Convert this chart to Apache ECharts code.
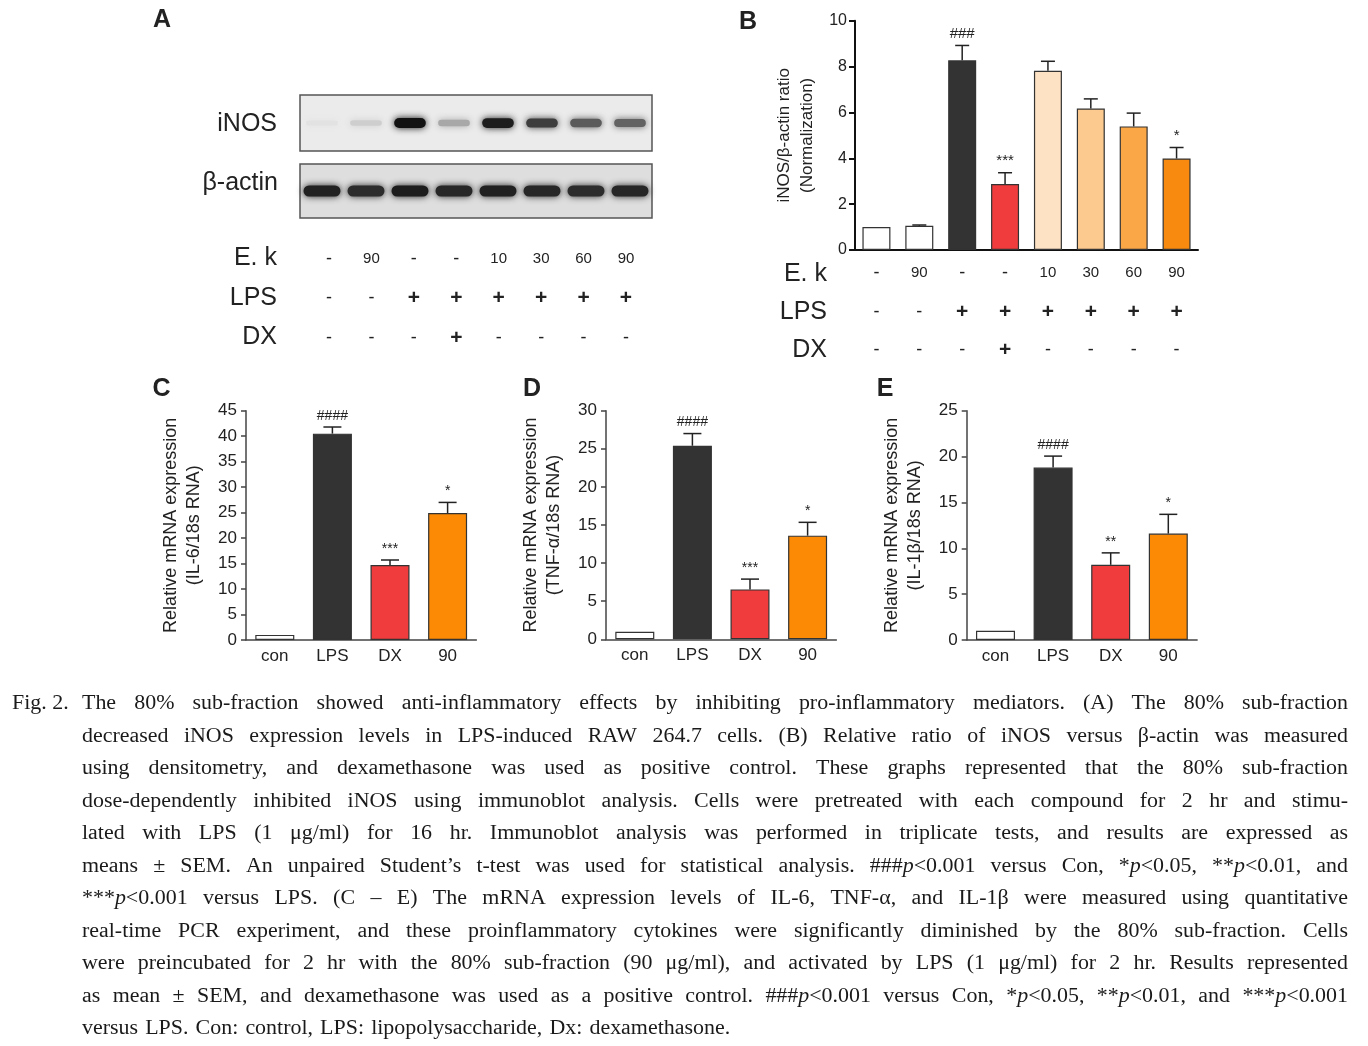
<!DOCTYPE html>
<html><head><meta charset="utf-8">
<script src="https://cdn.jsdelivr.net/npm/echarts@6/dist/echarts.min.js"></script>
<style>html,body{margin:0;padding:0;background:#fff}#c{width:1368px;height:1046px}</style>
</head><body><div id="c"></div>
<script>
// ================= DATA =================
const laneCats = ['Con', 'E.k 90', 'LPS', 'LPS+DX', 'LPS+E.k 10', 'LPS+E.k 30', 'LPS+E.k 60', 'LPS+E.k 90'];
const ekRow  = ['-', '90', '-', '-', '10', '30', '60', '90'];
const lpsRow = ['-', '-', '+', '+', '+', '+', '+', '+'];
const dxRow  = ['-', '-', '-', '+', '-', '-', '-', '-'];
// relative band intensity in the immunoblot (0 = none, 1 = strongest)
const inosBand  = [0.03, 0.12, 1.0, 0.3, 0.95, 0.8, 0.66, 0.62];
const actinBand = [0.93, 0.88, 0.95, 0.9, 0.93, 0.9, 0.88, 0.9];
// panel B: iNOS / beta-actin ratio
const ratioMean = [1.0, 1.06, 8.27, 2.88, 7.82, 6.17, 5.39, 3.99];
const ratioErr  = [0, 0.03, 0.65, 0.49, 0.41, 0.42, 0.58, 0.48];
const ratioSig  = ['', '', '###', '***', '', '', '', '*'];
// panels C-E: relative mRNA expression
const mrnaCats = ['con', 'LPS', 'DX', '90'];
const il6Mean  = [1.0, 40.5, 14.7, 24.9];
const il6Err   = [0, 1.3, 1.0, 2.1];
const il6Sig   = ['', '####', '***', '*'];
const tnfMean  = [1.0, 25.4, 6.55, 13.6];
const tnfErr   = [0, 1.6, 1.35, 1.75];
const tnfSig   = ['', '####', '***', '*'];
const il1bMean = [1.0, 18.8, 8.2, 11.6];
const il1bErr  = [0, 1.25, 1.3, 2.1];
const il1bSig  = ['', '####', '**', '*'];

const captionLines = [
  'The 80% sub-fraction showed anti-inflammatory effects by inhibiting pro-inflammatory mediators. (A) The 80% sub-fraction',
  'decreased iNOS expression levels in LPS-induced RAW 264.7 cells. (B) Relative ratio of iNOS versus β-actin was measured',
  'using densitometry, and dexamethasone was used as positive control. These graphs represented that the 80% sub-fraction',
  'dose-dependently inhibited iNOS using immunoblot analysis. Cells were pretreated with each compound for 2 hr and stimu-',
  'lated with LPS (1 μg/ml) for 16 hr. Immunoblot analysis was performed in triplicate tests, and results are expressed as',
  'means ± SEM. An unpaired Student’s t-test was used for statistical analysis. ###_p_<0.001 versus Con, *_p_<0.05, **_p_<0.01, and',
  '***_p_<0.001 versus LPS. (C – E) The mRNA expression levels of IL-6, TNF-α, and IL-1β were measured using quantitative',
  'real-time PCR experiment, and these proinflammatory cytokines were significantly diminished by the 80% sub-fraction. Cells',
  'were preincubated for 2 hr with the 80% sub-fraction (90 μg/ml), and activated by LPS (1 μg/ml) for 2 hr. Results represented',
  'as mean ± SEM, and dexamethasone was used as a positive control. ###_p_<0.001 versus Con, *_p_<0.05, **_p_<0.01, and ***_p_<0.001',
  'versus LPS. Con: control, LPS: lipopolysaccharide, Dx: dexamethasone.'
];

// ================= STYLE =================
const SANS = 'Liberation Sans';
const SERIF = 'Liberation Serif';
const INK = '#222';
const ratioColors = ['#ffffff', '#ffffff', '#333333', '#f03c3c', '#fde2c4', '#fcc98e', '#faa748', '#f98a10'];
const mrnaColors = ['#ffffff', '#333333', '#f03c3c', '#fc8a05'];

const chart = echarts.init(document.getElementById('c'), null, {renderer: 'canvas'});

// grids: 0 iNOS blot, 1 actin blot, 2 blot labels, 3 B, 4 C, 5 D, 6 E
const grids = [
  {left: 300, top: 95, width: 352, height: 56, show: true, backgroundColor: '#ebebeb', borderColor: '#555', borderWidth: 1.5},
  {left: 300, top: 164, width: 352, height: 54, show: true, backgroundColor: '#dedede', borderColor: '#555', borderWidth: 1.5},
  {left: 307.8, top: 220, width: 339.4, height: 10},
  {left: 855, top: 20.7, width: 343, height: 229.3},
  {left: 246, top: 410.7, width: 230.4, height: 229.3},
  {left: 606, top: 410.7, width: 230.4, height: 228.6},
  {left: 966.7, top: 410.7, width: 230.4, height: 229.3}
].map(g => Object.assign({outerBoundsMode: 'none', containLabel: false}, g));

function rowLabel(i) {
  const tok = t => t === '+' ? `{p|+}` : (t === '-' ? `{m|-}` : `{n|${t}}`);
  return [tok(ekRow[i]), tok(lpsRow[i]), tok(dxRow[i])].join('\n');
}
function rowRich(lh) {
  return {
    p: {fontSize: 21, fontWeight: 'bold', fontFamily: SANS, color: INK, lineHeight: lh},
    m: {fontSize: 18, fontFamily: SANS, color: INK, lineHeight: lh},
    n: {fontSize: 15, fontFamily: SANS, color: INK, lineHeight: lh}
  };
}

const hiddenX = (gi, data) => ({type: 'category', gridIndex: gi, data, show: false});
const hiddenY = gi => ({type: 'value', gridIndex: gi, min: 0, max: 1, show: false});

function mrnaX(gi) {
  return {
    type: 'category', gridIndex: gi, data: mrnaCats,
    axisLine: {lineStyle: {color: '#444', width: 1.5}},
    axisTick: {alignWithLabel: true, length: 6, lineStyle: {color: '#444', width: 1.5}},
    axisLabel: {fontSize: 17, fontFamily: SANS, color: INK, margin: 8}
  };
}
function mrnaY(gi, max, name) {
  return {
    type: 'value', gridIndex: gi, min: 0, max: max, interval: 5,
    splitLine: {show: false},
    axisLine: {show: true, lineStyle: {color: '#444', width: 1.5}},
    axisTick: {show: true, length: 5, lineStyle: {color: '#444', width: 1.5}},
    axisLabel: {fontSize: 17, fontFamily: SANS, color: INK, margin: 9},
    name: name, nameLocation: 'middle', nameRotate: 90, nameGap: 40, nameMoveOverlap: false,
    nameTextStyle: {fontSize: 18, fontFamily: SANS, color: INK, lineHeight: 23}
  };
}

const xAxes = [
  hiddenX(0, laneCats), hiddenX(1, laneCats),
  {type: 'category', gridIndex: 2, data: laneCats, axisLine: {show: false}, axisTick: {show: false},
   axisLabel: {interval: 0, margin: 9, formatter: (v, i) => rowLabel(i), rich: rowRich(39.5)}},
  {type: 'category', gridIndex: 3, data: laneCats,
   axisLine: {lineStyle: {color: '#111', width: 2}},
   axisTick: {alignWithLabel: true, length: 7, lineStyle: {color: '#111', width: 2}},
   axisLabel: {interval: 0, margin: 4, formatter: (v, i) => rowLabel(i), rich: rowRich(38.5)}},
  mrnaX(4), mrnaX(5), mrnaX(6)
];
const yAxes = [
  hiddenY(0), hiddenY(1), hiddenY(2),
  {type: 'value', gridIndex: 3, min: 0, max: 10, interval: 2, splitLine: {show: false},
   axisLine: {show: true, lineStyle: {color: '#111', width: 2}},
   axisTick: {show: true, length: 6, lineStyle: {color: '#111', width: 2}},
   axisLabel: {fontSize: 16, fontFamily: SANS, color: INK, margin: 8},
   name: 'iNOS/β-actin ratio\n(Normalization)', nameLocation: 'middle', nameRotate: 90, nameGap: 36,
   nameMoveOverlap: false,
   nameTextStyle: {fontSize: 17, fontFamily: SANS, color: INK, lineHeight: 23}},
  mrnaY(4, 45, 'Relative mRNA expression\n(IL-6/18s RNA)'),
  mrnaY(5, 30, 'Relative mRNA expression\n(TNF-α/18s RNA)'),
  mrnaY(6, 25, 'Relative mRNA expression\n(IL-1β/18s RNA)')
];

function bandSeries(ai, vals, wFrac, hBase, hVar) {
  return {
    type: 'custom', xAxisIndex: ai, yAxisIndex: ai, silent: true,
    data: vals.map((v, i) => [i, v]),
    renderItem(params, api) {
      const v = api.value(1);
      const c = api.coord([api.value(0), 0.5]);
      const w = api.size([1, 0])[0] * wFrac;
      const h = hBase + hVar * v;
      const g = Math.round(232 - v * 214);
      const col = `rgb(${g},${g},${g})`;
      return {type: 'rect', shape: {x: c[0] - w / 2, y: c[1] - h / 2, width: w, height: h, r: h / 2},
              style: {fill: col, shadowBlur: 7, shadowColor: col}};
    }
  };
}
function barSeries(ai, vals, colors, bw) {
  return {
    type: 'bar', xAxisIndex: ai, yAxisIndex: ai, barWidth: bw, silent: true,
    data: vals.map((v, i) => ({value: v, itemStyle: {color: colors[i]}})),
    itemStyle: {borderColor: '#333', borderWidth: 1.2}
  };
}
function errSeries(ai, means, errs, sigs, capW, fs) {
  return {
    type: 'custom', xAxisIndex: ai, yAxisIndex: ai, silent: true, z: 5,
    data: means.map((m, i) => [i, m, errs[i]]),
    renderItem(params, api) {
      const x = api.value(0), m = api.value(1), e = api.value(2);
      const sig = sigs[params.dataIndex];
      const p0 = api.coord([x, m]), p1 = api.coord([x, m + e]);
      const ch = [];
      if (e > 0) {
        ch.push({type: 'line', shape: {x1: p0[0], y1: p0[1], x2: p1[0], y2: p1[1]}, style: {stroke: '#222', lineWidth: 1.5}});
        ch.push({type: 'line', shape: {x1: p1[0] - capW / 2, y1: p1[1], x2: p1[0] + capW / 2, y2: p1[1]}, style: {stroke: '#222', lineWidth: 1.5}});
      }
      if (sig) ch.push({type: 'text', style: {text: sig, x: p1[0], y: p1[1] - 4, align: 'center', verticalAlign: 'bottom',
                       fontSize: fs, fontFamily: SANS, fill: '#222'}});
      return {type: 'group', children: ch};
    }
  };
}

// ---------- graphic texts ----------
const graphics = [];
function txt(t, x, y, fs, opt) {
  opt = opt || {};
  graphics.push({type: 'text', x: x, y: y, silent: true, style: {
    text: t, fontSize: fs, fontFamily: opt.family || SANS, fontWeight: opt.weight || 'normal',
    fill: INK, align: opt.align || 'right', textAlign: opt.align || 'right', verticalAlign: 'middle', textVerticalAlign: 'middle'}});
}
txt('A', 162, 20, 25, {weight: 'bold', align: 'center'});
txt('B', 748, 22, 25, {weight: 'bold', align: 'center'});
txt('C', 161.5, 389, 25, {weight: 'bold', align: 'center'});
txt('D', 532, 389, 25, {weight: 'bold', align: 'center'});
txt('E', 885, 389, 25, {weight: 'bold', align: 'center'});
txt('iNOS', 277, 124, 25);
txt('β-actin', 278, 183, 25);
txt('E. k', 277, 258, 25); txt('LPS', 277, 298, 25); txt('DX', 277, 337, 25);
txt('E. k', 827, 274, 25); txt('LPS', 827, 312, 25); txt('DX', 827, 350, 25);

// caption, justified
const CFS = 20.5;
const cctx = document.createElement('canvas').getContext('2d');
function meas(t, it) { cctx.font = (it ? 'italic ' : '') + CFS + 'px "' + SERIF + '"'; return cctx.measureText(t).width; }
function capText(t, x, y, sx, it) {
  graphics.push({type: 'text', x: x, y: y, scaleX: sx, silent: true, style: {
    text: t, fontSize: CFS, fontFamily: SERIF, fontStyle: it ? 'italic' : 'normal', fill: '#1a1a1a',
    align: 'left', textAlign: 'left', verticalAlign: 'middle', textVerticalAlign: 'middle'}});
}
const L = 82, R = 1348;
capText('Fig. 2.', 12, 704, 1.07, false);
captionLines.forEach((line, li) => {
  const y = 704 + li * 32.5;
  const words = line.split(' ').map(w => w.split('_').map((s, k) => ({t: s, it: k % 2 === 1, w: meas(s, k % 2 === 1)})).filter(s => s.t.length));
  const wWidth = words.map(ws => ws.reduce((a, s) => a + s.w, 0));
  const sum = wWidth.reduce((a, b) => a + b, 0);
  const last = li === captionLines.length - 1;
  let sx = Math.min(1.07, (R - L - (words.length - 1) * 4) / sum);
  const gap = last ? meas(' ', false) * sx * 1.3 : (R - L - sum * sx) / (words.length - 1);
  let x = L;
  words.forEach((ws, wi) => {
    ws.forEach(s => { capText(s.t, x, y, sx, s.it); x += s.w * sx; });
    x += gap;
  });
});

chart.setOption({
  animation: false,
  backgroundColor: '#fff',
  textStyle: {fontFamily: SANS},
  grid: grids,
  xAxis: xAxes,
  yAxis: yAxes,
  series: [
    bandSeries(0, inosBand, 0.72, 5, 5),
    bandSeries(1, actinBand, 0.84, 11, 0),
    barSeries(3, ratioMean, ratioColors, 28),
    errSeries(3, ratioMean, ratioErr, ratioSig, 14, 15),
    barSeries(4, il6Mean, mrnaColors, 39),
    errSeries(4, il6Mean, il6Err, il6Sig, 18, 14),
    barSeries(5, tnfMean, mrnaColors, 39),
    errSeries(5, tnfMean, tnfErr, tnfSig, 18, 14),
    barSeries(6, il1bMean, mrnaColors, 39),
    errSeries(6, il1bMean, il1bErr, il1bSig, 18, 14)
  ],
  graphic: graphics
});
</script>
</body></html>
